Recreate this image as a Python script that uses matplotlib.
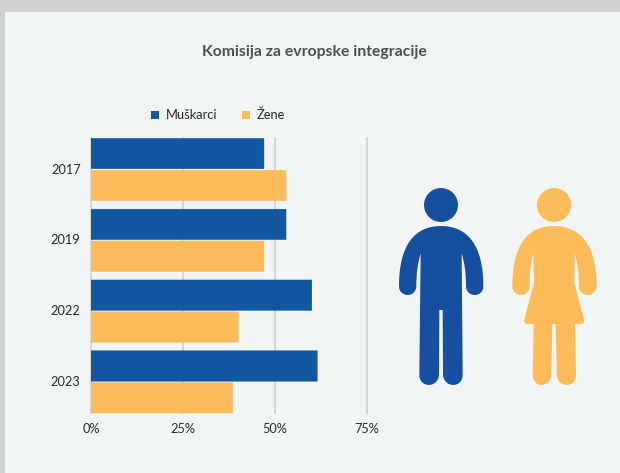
#!/usr/bin/env python3
# -*- coding: utf-8 -*-

import matplotlib
matplotlib.use("Agg")
import matplotlib.pyplot as plt
from matplotlib.patches import Circle, PathPatch, Rectangle
from matplotlib.path import Path
from matplotlib.transforms import ScaledTranslation

DPI = 100
W, H = 620, 473

BLUE = "#1356a2"
ORANGE = "#febb59"
PANEL = "#f2f5f6"
OUTER = "#d0d1d3"
GRID = "#d5d8d9"
TEXT = "#2b2b2b"

years = ["2017", "2019", "2022", "2023"]
muskarci = [47, 53, 60, 61.5]
zene = [53, 47, 40, 38.5]
ticks = [0, 25, 50, 75]
tick_labels = ["0%", "25%", "50%", "75%"]

plt.rcParams["font.family"] = ["Lato", "DejaVu Sans"]


def person_path(verts_codes, ox, oy):
    # outline is noted in 3x zoomed coordinates, convert to pixels
    verts = []
    codes = []
    for code, pts in verts_codes:
        codes.extend([code] * len(pts))
        for x, y in pts:
            verts.append((ox + x / 3.0, oy + y / 3.0))
    return Path(verts, codes)


M, L, C = Path.MOVETO, Path.LINETO, Path.CURVE4

man = [
    (M, [(183, 168)]),
    (C, [(262, 168), (310, 225), (310, 348)]),
    (C, [(310, 384), (258, 384), (258, 348)]),
    (C, [(258, 310), (254, 280), (245, 250)]),
    (L, [(248, 612)]),
    (C, [(250, 656), (190, 656), (189, 612)]),
    (L, [(188, 420), (178, 420), (177, 612)]),
    (C, [(176, 656), (116, 656), (118, 612)]),
    (L, [(122, 250)]),
    (C, [(113, 280), (109, 310), (109, 348)]),
    (C, [(109, 384), (57, 384), (57, 348)]),
    (C, [(57, 225), (104, 168), (183, 168)]),
]

woman = [
    (M, [(522, 168)]),
    (C, [(601, 168), (650, 225), (650, 348)]),
    (C, [(650, 384), (597, 384), (597, 348)]),
    (C, [(597, 310), (593, 280), (584, 250)]),
    (L, [(583, 340), (612, 448)]),
    (C, [(614, 456), (610, 462), (603, 462)]),
    (L, [(585, 462), (588, 612)]),
    (C, [(590, 656), (531, 656), (530, 612)]),
    (L, [(527, 462), (517, 462), (514, 612)]),
    (C, [(513, 656), (456, 656), (458, 612)]),
    (L, [(461, 462), (442, 462)]),
    (C, [(435, 462), (431, 456), (433, 448)]),
    (L, [(462, 340), (460, 250)]),
    (C, [(452, 280), (449, 310), (449, 348)]),
    (C, [(449, 384), (397, 384), (397, 348)]),
    (C, [(397, 225), (443, 168), (522, 168)]),
]

fig = plt.figure(figsize=(W / DPI, H / DPI), dpi=DPI, facecolor=OUTER)

# background panel and the two figures, in pixel coordinates
bg = fig.add_axes([0, 0, 1, 1], zorder=0)
bg.set_xlim(0, W)
bg.set_ylim(H, 0)
bg.axis("off")
bg.add_patch(Rectangle((5, 12), W - 5, H - 12, color=PANEL, lw=0))
bg.add_patch(Circle((441, 205), 17, color="#174fa0", lw=0))
bg.add_patch(PathPatch(person_path(man, 380, 170), fc="#174fa0", lw=0))
bg.add_patch(Circle((554, 205), 17, color=ORANGE, lw=0))
bg.add_patch(PathPatch(person_path(woman, 380, 170), fc=ORANGE, lw=0))

bg.text(314.5, 52, "Komisija za evropske integracije", ha="center", va="center",
        fontsize=11.3, fontweight="bold", color="#4b5344")

# chart
ax = fig.add_axes([91 / W, 1 - 413.5 / H, (367 - 91) / W, (413.5 - 137) / H], zorder=1)
ax.patch.set_alpha(0)

pos = list(range(len(years)))
bar_h = 0.43
off = 0.225
for i in pos:
    ax.barh(i - off, muskarci[i], height=bar_h, color=BLUE, edgecolor=BLUE,
            linewidth=0.3, joinstyle="round", snap=False, zorder=3)
    ax.barh(i + off, zene[i], height=bar_h, color=ORANGE, edgecolor=ORANGE,
            linewidth=0.3, joinstyle="round", snap=False, zorder=3)

ax.set_xlim(0, 75)
ax.set_ylim(3.446, -0.459)
ax.set_xticks(ticks)
ax.set_xticklabels(tick_labels)
ax.set_yticks(pos)
ax.set_yticklabels(years)
ax.tick_params(length=0, labelsize=9.2, labelcolor=TEXT)
ax.tick_params(axis="x", pad=7)
ax.tick_params(axis="y", pad=7.5)
ax.grid(True, axis="x", color=GRID, linewidth=1.5, zorder=0)
ax.set_axisbelow(True)
for line in ax.get_xgridlines():
    line.set_clip_on(False)
    line.set_solid_capstyle("butt")
for name, spine in ax.spines.items():
    spine.set_visible(False)

# year labels sit a little above the centre of their group
shift = ScaledTranslation(0, 1.0 / DPI, fig.dpi_scale_trans)
for label in ax.get_yticklabels():
    label.set_transform(label.get_transform() + shift)

# legend
bg.scatter([155], [115], marker="s", s=29, color=BLUE, lw=0)
bg.text(166, 115, "Muškarci", ha="left", va="center", fontsize=9.3, color=TEXT)
bg.scatter([246], [115], marker="s", s=29, color=ORANGE, lw=0)
bg.text(257, 115, "Žene", ha="left", va="center", fontsize=9.3, color=TEXT)

fig.savefig("out.png", dpi=DPI, facecolor=OUTER)
